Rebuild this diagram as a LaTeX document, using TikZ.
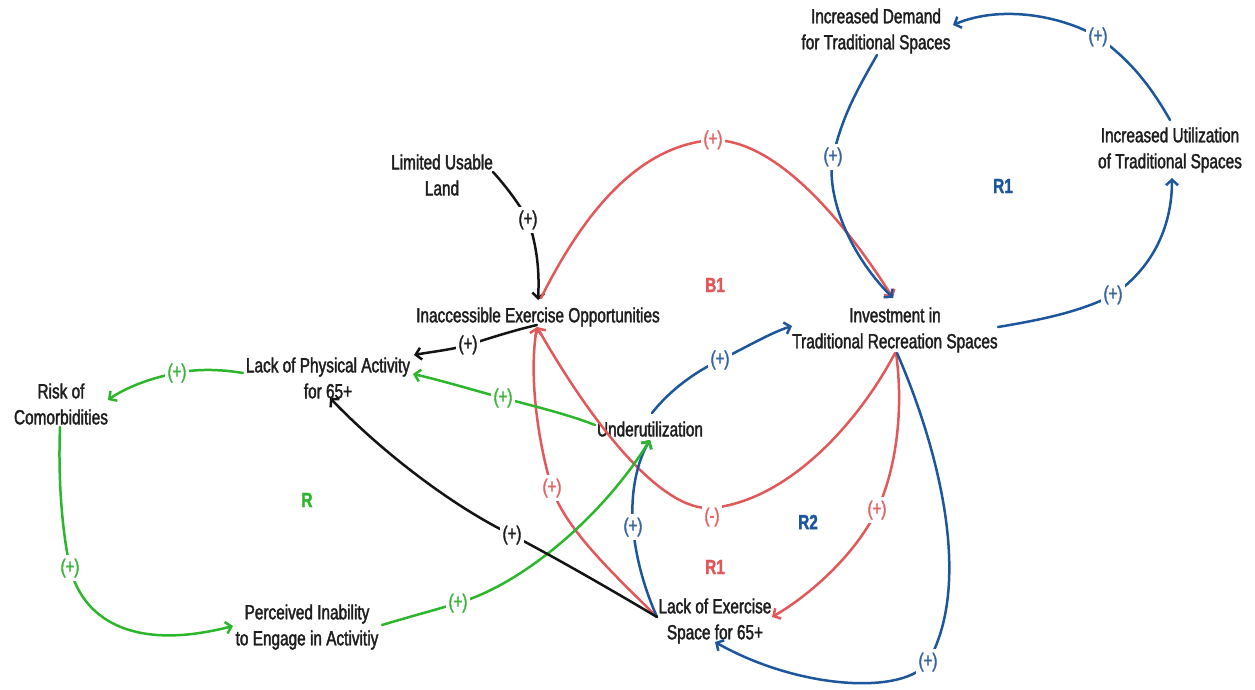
\documentclass[tikz,border=0pt]{standalone}
\usepackage{fontspec}
\setmainfont{Liberation Sans}[FakeStretch=0.75,FakeBold=1.8]
\usetikzlibrary{arrows.meta}
\definecolor{cred}{RGB}{226,88,88}
\definecolor{cblue}{RGB}{28,86,156}
\definecolor{cgreen}{RGB}{44,182,44}
\definecolor{cblack}{RGB}{20,20,20}
\definecolor{ctext}{RGB}{30,30,30}
\definecolor{lred}{RGB}{225,100,100}
\definecolor{lblue}{RGB}{55,100,160}
\definecolor{lgreen}{RGB}{60,180,60}
\begin{document}
\begin{tikzpicture}[x=1pt,y=-1pt,
 var/.style={font=\fontsize{20.5}{26}\selectfont, text=ctext, align=center, inner sep=0pt},
 lbl/.style={font=\fontsize{20}{20}\selectfont, fill=white, inner xsep=2.5pt, inner ysep=4pt},
 loopname/.style={font=\fontsize{20.5}{22}\selectfont\bfseries},
 link/.style={line width=2.5pt, -{Straight Barb[length=5.5pt,width=12pt]}, line cap=round},
 redlink/.style={link, draw=cred},
 bluelink/.style={link, draw=cblue},
 greenlink/.style={link, draw=cgreen},
 blacklink/.style={link, draw=cblack},
]
\useasboundingbox (0,0) rectangle (1255,690);
\fill[white] (0,0) rectangle (1255,690);

% variables
\node[var] (dem) at (876,31) {Increased Demand\\for Traditional Spaces};
\node[var] (util) at (1170,150) {Increased Utilization\\of Traditional Spaces};
\node[var] (lul) at (442,175) {Limited Usable\\Land};
\node[var] (inac) at (538,317) {Inaccessible Exercise Opportunities};
\node[var] (inv) at (895,330) {Investment in\\Traditional Recreation Spaces};
\node[var] (lpa) at (328,378) {Lack of Physical Activity\\for 65+};
\node[var] (risk) at (61,404) {Risk of\\Comorbidities};
\node[var] (under) at (650,429) {Underutilization};
\node[var] (les) at (715,621) {Lack of Exercise\\Space for 65+};
\node[var] (pia) at (307,627) {Perceived Inability\\to Engage in Activitiy};

% loop names
\node[loopname, text=cblue] (r1b) at (1003,186) {R1};
\node[loopname, text=cred] (b1) at (715,285) {B1};
\node[loopname, text=cblue] (r2) at (808,522) {R2};
\node[loopname, text=cred] (r1r) at (715,567) {R1};
\node[loopname, text=cgreen] (rg) at (307,500) {R};

% P1 Limited Usable Land -> Inaccessible
\draw[blacklink] ([shift={(51,-3)}]lul.center) .. controls (505,185) and (520,205) .. (528,220)
  node[lbl, text=ctext] (l1) {(+)} .. controls (535,240) and (540,265) .. ([shift={(0,-17)}]inac.center);
% P2 Inaccessible -> Lack of Physical Activity
\draw[blacklink] ([shift={(-1,8)}]inac.center) .. controls (515,330) and (490,338) .. (468,345)
  node[lbl, text=ctext] (l2) {(+)} .. controls (450,350) and (430,352) .. ([shift={(86,-23)}]lpa.center);
% P3 Inaccessible -> Investment (red arc)
\draw[redlink] ([shift={(3,-19)}]inac.center) .. controls (585,210) and (640,145) .. (713,140)
  node[lbl, text=lred] (l3) {(+)} .. controls (780,140) and (850,230) .. ([shift={(-2,-32)}]inv.center);
% P4 Demand -> Investment
\draw[bluelink] ([shift={(1,24)}]dem.center) .. controls (860,85) and (842,115) .. (833,157)
  node[lbl, text=lblue] (l4) {(+)} .. controls (826,190) and (845,250) .. ([shift={(-2,-32)}]inv.center);
% P5 Investment -> Utilization
\draw[bluelink] ([shift={(103,-3)}]inv.center) .. controls (1040,320) and (1080,312) .. (1113,295)
  node[lbl, text=lblue] (l5) {(+)} .. controls (1150,270) and (1172,230) .. ([shift={(2,28)}]util.center);
% P6 Utilization -> Demand
\draw[bluelink] ([shift={(0,-30)}]util.center) .. controls (1150,85) and (1130,60) .. (1098,37)
  node[lbl, text=lblue] (l6) {(+)} .. controls (1060,15) and (1000,5) .. ([shift={(77,-6)}]dem.center);
% P7 Lack of Exercise Space -> Inaccessible
\draw[redlink] ([shift={(-58,-4)}]les.center) .. controls (620,580) and (565,530) .. (552,488)
  node[lbl, text=lred] (l7) {(+)} .. controls (540,450) and (528,380) .. ([shift={(-1,10)}]inac.center);
% P8 Investment -> Inaccessible (-)
\draw[redlink] ([shift={(0,23)}]inv.center) .. controls (860,420) and (790,500) .. (712,508)
  node[lbl, text=lred, yshift=-9pt] (l8) {(-)} .. controls (660,512) and (590,420) .. ([shift={(-1,10)}]inac.center);
% P9 Investment -> Lack of Exercise Space (red)
\draw[redlink] ([shift={(1,23)}]inv.center) .. controls (904,410) and (896,470) .. (877,510)
  node[lbl, text=lred] (l9) {(+)} .. controls (855,555) and (810,595) .. ([shift={(57,-4)}]les.center);
% P10 Investment -> Lack of Exercise Space (blue)
\draw[bluelink] ([shift={(2,23)}]inv.center) .. controls (935,440) and (975,580) .. (928,662)
  node[lbl, text=lblue] (l10) {(+)} .. controls (905,695) and (800,690) .. ([shift={(0,21)}]les.center);
% P11 Lack of Exercise Space -> Underutilization
\draw[bluelink] ([shift={(-58,-4)}]les.center) .. controls (645,590) and (636,560) .. (633,527)
  node[lbl, text=lblue] (l11) {(+)} .. controls (630,490) and (638,460) .. ([shift={(0,11)}]under.center);
% P12 Underutilization -> Investment
\draw[bluelink] ([shift={(2,-16)}]under.center) .. controls (670,390) and (695,372) .. (720,360)
  node[lbl, text=lblue] (l12) {(+)} .. controls (745,348) and (770,333) .. ([shift={(-103,-4)}]inv.center);
% P13 Underutilization -> Lack of Physical Activity
\draw[greenlink] ([shift={(-55,-4)}]under.center) .. controls (570,415) and (530,405) .. (503,398)
  node[lbl, text=lgreen] (l13) {(+)} .. controls (480,392) and (440,380) .. ([shift={(85,-4)}]lpa.center);
% P14 Lack of Physical Activity -> Risk
\draw[greenlink] ([shift={(-85,-5)}]lpa.center) .. controls (225,370) and (200,368) .. (177,373)
  node[lbl, text=lgreen] (l14) {(+)} .. controls (150,378) and (125,388) .. ([shift={(47,-4)}]risk.center);
% P15 Risk -> Perceived Inability
\draw[greenlink] ([shift={(-1,23)}]risk.center) .. controls (58,480) and (62,530) .. (70,568)
  node[lbl, text=lgreen] (l15) {(+)} .. controls (85,625) and (140,650) .. ([shift={(-74,-1)}]pia.center);
% P16 Perceived Inability -> Underutilization
\draw[greenlink] ([shift={(75,-2)}]pia.center) .. controls (405,618) and (435,610) .. (458,603)
  node[lbl, text=lgreen] (l16) {(+)} .. controls (520,585) and (600,520) .. ([shift={(0,11)}]under.center);
% P17 Lack of Exercise Space -> Lack of Physical Activity
\draw[blacklink] ([shift={(-58,-4)}]les.center) .. controls (620,595) and (560,560) .. (512,535)
  node[lbl, text=ctext] (l17) {(+)} .. controls (450,505) and (380,450) .. ([shift={(2,20)}]lpa.center);
\end{tikzpicture}
\end{document}
